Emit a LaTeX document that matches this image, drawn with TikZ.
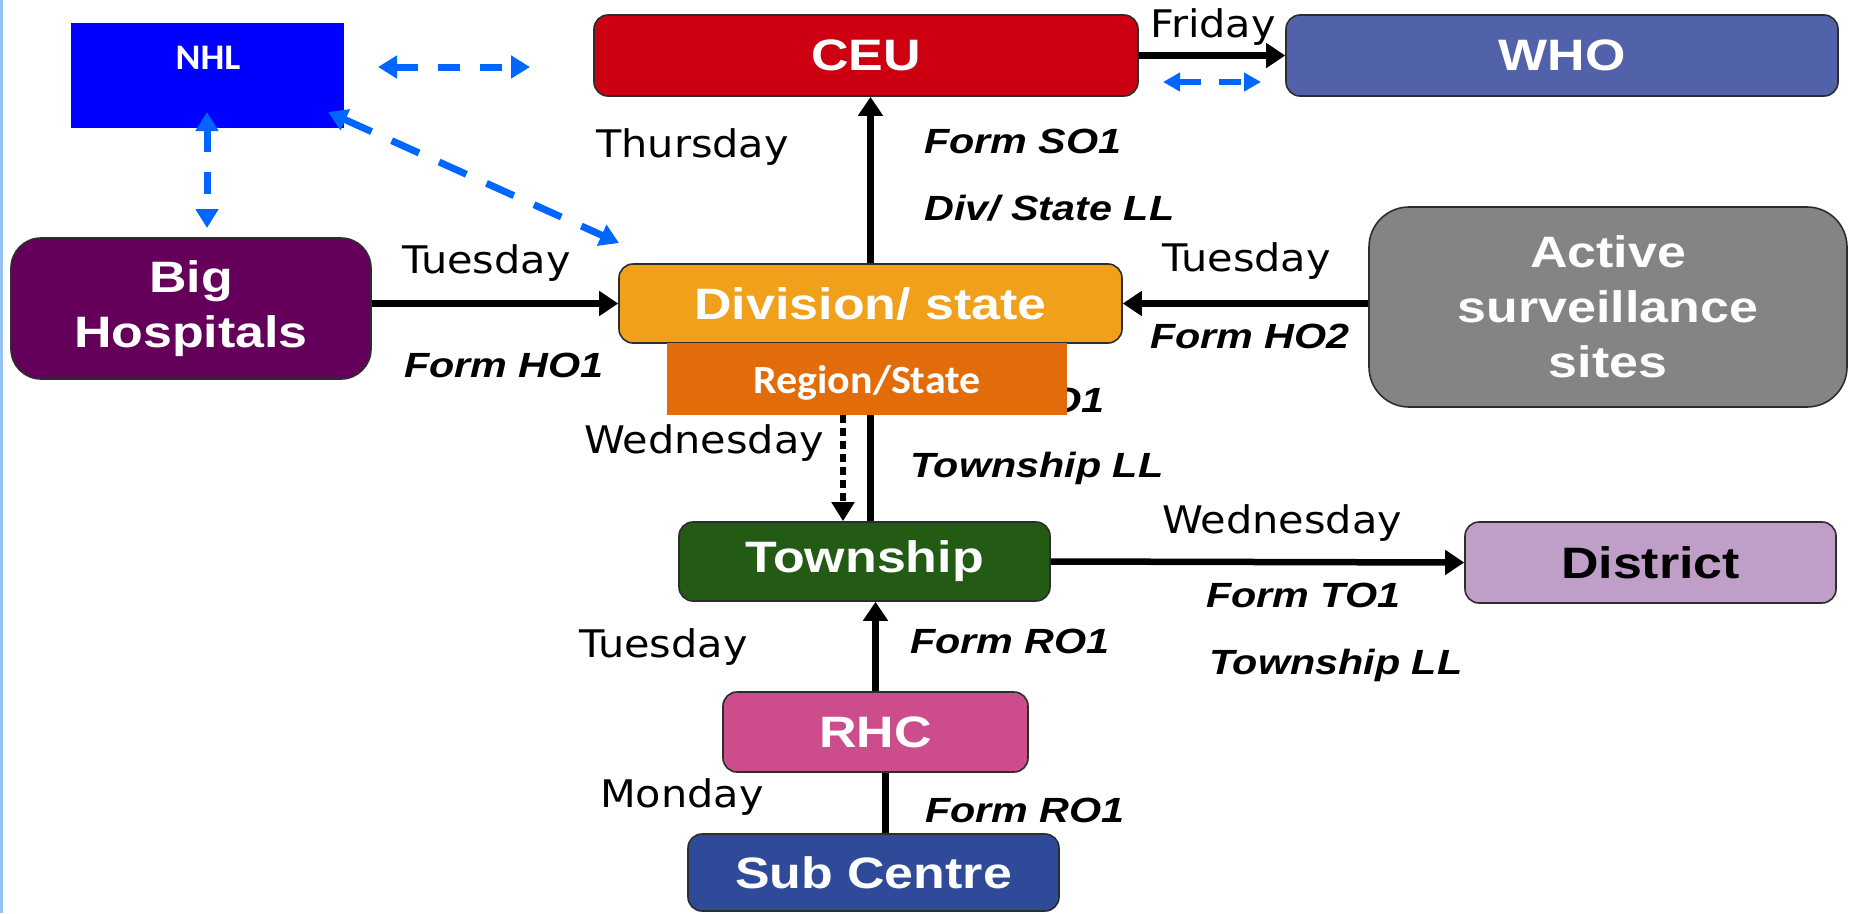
\documentclass[tikz,border=0pt]{standalone}
\usepackage{fontspec}
\usetikzlibrary{arrows.meta,calc}
\newfontfamily\arialx[FakeStretch=1.18]{Liberation Sans}
\newfontfamily\dayfnt[FakeStretch=1.09]{DejaVu Sans}
\newfontfamily\calfnt[FakeStretch=1.05]{Carlito}
\definecolor{boxborder}{RGB}{45,45,45}
\definecolor{ceured}{RGB}{204,0,17}
\definecolor{whoblue}{RGB}{82,98,170}
\definecolor{divorange}{RGB}{240,160,26}
\definecolor{regorange}{RGB}{227,108,10}
\definecolor{bhpurple}{RGB}{100,0,90}
\definecolor{actgray}{RGB}{133,131,132}
\definecolor{twngreen}{RGB}{35,90,20}
\definecolor{distlilac}{RGB}{191,159,200}
\definecolor{rhcpink}{RGB}{204,76,140}
\definecolor{subblue}{RGB}{46,74,152}
\definecolor{nhlblue}{RGB}{0,0,255}
\definecolor{linkblue}{RGB}{0,102,255}
\definecolor{edgeblue}{RGB}{150,195,245}
\tikzset{
  box/.style={draw=boxborder, line width=1.6pt, rounded corners=14pt, inner sep=0pt,
    text=white, align=center, font=\arialx\bfseries\fontsize{44}{55}\selectfont},
  flatbox/.style={inner sep=0pt, text=white},
  daylbl/.style={inner sep=0pt, anchor=base west, font=\dayfnt\fontsize{38}{44}\selectfont},
  formlbl/.style={inner sep=0pt, anchor=base west, font=\arialx\bfseries\itshape\fontsize{35}{40}\selectfont},
  flow/.style={line width=6.5pt, -{Triangle[length=19pt,width=24pt]}},
  plainflow/.style={line width=6.5pt},
  dotflow/.style={line width=6pt, dash pattern=on 8pt off 5pt, -{Triangle[length=19pt,width=22pt]}},
  link/.style={draw=linkblue, line width=7pt, dash pattern=on 22pt off 20pt,
    {Triangle[length=19pt,width=22pt]}-{Triangle[length=19pt,width=22pt]}},
}
\begin{document}
\begin{tikzpicture}[x=1pt,y=-1pt]
\useasboundingbox (0,0) rectangle (1849,913);
\fill[white] (0,0) rectangle (1849,913);
\fill[edgeblue] (0,0) rectangle (3,913);

% label partly hidden under the Region/State box
\node[formlbl, anchor=base east] (hidform) at (1105,412) {Form TO1};

% boxes
\node[box, fill=ceured, minimum width=544pt, minimum height=81pt] (ceu) at (866,55.5) {CEU};
\node[box, fill=whoblue, minimum width=552pt, minimum height=81pt] (who) at (1562,55.5) {WHO};
\node[flatbox, fill=nhlblue, minimum width=273pt, minimum height=105pt] (nhl) at (207.5,75.5) {};
\node[inner sep=0pt, text=white, font=\calfnt\bfseries\fontsize{36}{40}\selectfont] (nhltxt) at (208,58) {NHL};
\node[box, fill=bhpurple, rounded corners=30pt, minimum width=360pt, minimum height=141pt] (bh) at (191,308.5) {Big\\Hospitals};
\node[box, fill=divorange, minimum width=503pt, minimum height=79pt] (div) at (870.5,303.5) {Division/ state};
\node[box, fill=actgray, rounded corners=40pt, minimum width=478pt, minimum height=200pt] (act) at (1608,307) {Active\\surveillance\\sites};
\node[box, fill=twngreen, minimum width=371pt, minimum height=79pt] (twn) at (864.5,561.5) {Township};
\node[box, fill=distlilac, text=black, minimum width=371pt, minimum height=81pt] (dist) at (1650.5,562.5) {District};
\node[box, fill=rhcpink, minimum width=305pt, minimum height=80pt] (rhc) at (875.5,732) {RHC};
\node[box, fill=subblue, minimum width=371pt, minimum height=77pt] (sub) at (873.5,872.5) {Sub Centre};

% black connectors
\draw[flow] (ceu.east) -- (who.west);
\draw[flow] (div.north) -- (div.north |- ceu.south);
\draw[flow] (bh.east |- div.west) -- (div.west);
\draw[flow] (act.west |- div.east) -- (div.east);
\draw[plainflow] (twn.north -| div.north) -- (div.south);
\draw[flow] (twn.east) -- (dist.west);
\draw[flow] (rhc.north) -- (rhc.north |- twn.south);
\draw[plainflow] ([xshift=12pt]sub.north) -- ([xshift=12pt]sub.north |- rhc.south);

% Region/State box on top
\node[flatbox, fill=regorange, minimum width=400pt, minimum height=72pt] (reg) at (867,379) {};
\node[inner sep=0pt, text=white, anchor=base, font=\calfnt\bfseries\fontsize{40}{44}\selectfont] (regtxt) at (867,393) {Region/State};
\draw[dotflow] ([xshift=-24pt]reg.south) -- ([xshift=-24pt]reg.south |- twn.north);

% labels
\node[daylbl] (lfri) at (1150,37) {Friday};
\node[daylbl] (lthu) at (596,157) {Thursday};
\node[daylbl] (ltue1) at (402,273) {Tuesday};
\node[daylbl] (ltue2) at (1162,271) {Tuesday};
\node[daylbl] (lwed1) at (584,453) {Wednesday};
\node[daylbl] (lwed2) at (1162,533) {Wednesday};
\node[daylbl] (ltue3) at (579,657) {Tuesday};
\node[daylbl] (lmon) at (600,807) {Monday};
\node[formlbl] (fso) at (924,153) {Form SO1};
\node[formlbl] (fdiv) at (924,220) {Div/ State LL};
\node[formlbl] (fho1) at (404,377) {Form HO1};
\node[formlbl] (fho2) at (1150,348) {Form HO2};
\node[formlbl] (ftll1) at (910,477) {Township LL};
\node[formlbl] (fto) at (1206,607) {Form TO1};
\node[formlbl] (ftll2) at (1209,674) {Township LL};
\node[formlbl] (fro1) at (910,653) {Form RO1};
\node[formlbl] (fro2) at (925,822) {Form RO1};

% blue dashed links
\coordinate (l1a) at (378,67); \coordinate (l1b) at (530,67);
\coordinate (l2a) at (207,112); \coordinate (l2b) at (207,228);
\coordinate (l3a) at (328,112); \coordinate (l3b) at (619,243);
\coordinate (l4a) at (1163,82); \coordinate (l4b) at (1261,82);
\draw[link] (l1a) -- (l1b);
\draw[link] (l2a) -- (l2b);
\draw[link, dash pattern=on 30pt off 22pt] (l3a) -- (l3b);
\draw[link, line width=6pt, dash pattern=on 22pt off 18pt,
  {Triangle[length=17pt,width=18pt]}-{Triangle[length=17pt,width=18pt]}] (l4a) -- (l4b);
\end{tikzpicture}
\end{document}
